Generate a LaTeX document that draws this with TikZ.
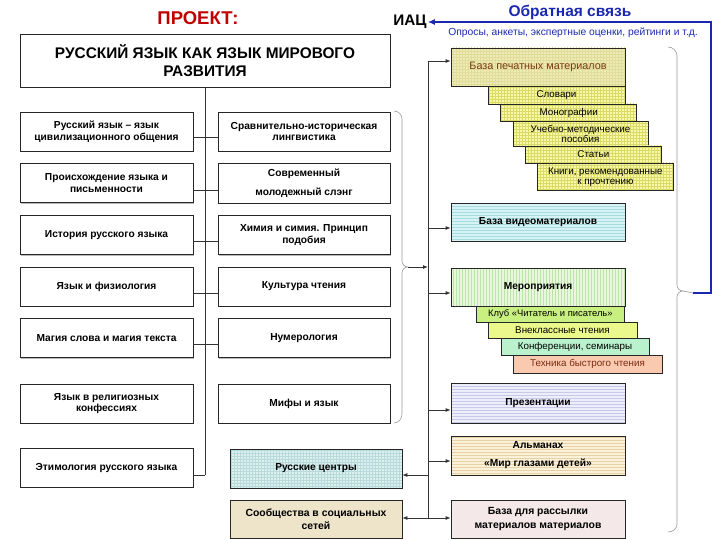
\documentclass[tikz,border=0pt]{standalone}
\usepackage{fontspec}
\setmainfont{Liberation Sans}
\usetikzlibrary{arrows.meta,patterns,shadows}
\definecolor{projred}{HTML}{C00000}
\definecolor{fbblue}{HTML}{1A28B0}
\definecolor{printfill}{HTML}{EEEAB4}
\definecolor{printgrid}{HTML}{E0DC9C}
\definecolor{printtxt}{HTML}{7A3A12}
\definecolor{subyel}{HTML}{F8F8A6}
\definecolor{subgrid}{HTML}{DADA6A}
\definecolor{vidfill}{HTML}{D8F3F5}
\definecolor{vidline}{HTML}{A6DCE0}
\definecolor{evfill}{HTML}{E8F7DE}
\definecolor{evline}{HTML}{BCE4A6}
\definecolor{presfill}{HTML}{EEEEFA}
\definecolor{presline}{HTML}{C8C8EA}
\definecolor{almfill}{HTML}{FBF0D8}
\definecolor{almline}{HTML}{E6D2A6}
\definecolor{mailfill}{HTML}{F4E8E8}
\definecolor{rcfill}{HTML}{DDF0F0}
\definecolor{rcgrid}{HTML}{B8DADA}
\definecolor{socfill}{HTML}{EEE4CA}
\definecolor{clubfill}{HTML}{C8F080}
\definecolor{vnekfill}{HTML}{EAF88C}
\definecolor{konffill}{HTML}{BAF2CE}
\definecolor{techfill}{HTML}{F9CAB0}
\definecolor{techtxt}{HTML}{7A2A10}
\begin{document}
\begin{tikzpicture}[x=1pt,y=-1pt,
  every node/.style={inner sep=1pt},
  lbox/.style={draw=black!85, line width=0.8pt, fill=white, align=center,
    font=\bfseries\fontsize{10.2}{11.5}\selectfont, minimum height=39pt,
    drop shadow={shadow xshift=1.2pt,shadow yshift=-1.2pt,fill=black!45,opacity=0.6}},
  lcol/.style={lbox, minimum width=173pt},
  rcol/.style={lbox, minimum width=172pt},
  bbox/.style={draw=black!85, line width=0.8pt, align=center, minimum width=174pt,
    font=\bfseries\fontsize{10.2}{11.5}\selectfont},
  sbox/.style={draw=black!85, line width=0.7pt, align=center,
    font=\fontsize{9.8}{10.4}\selectfont},
  yel/.style={sbox, preaction={fill=subyel}, pattern=grid, pattern color=subgrid},
  link/.style={draw=black!80, line width=0.8pt},
  arr/.style={draw=black!80, line width=0.8pt, -{Latex[length=5pt,width=4pt]}},
  brk/.style={draw=black!40, line width=0.6pt}
]
\useasboundingbox (0,0) rectangle (720,540);

% header
\node[font=\bfseries\fontsize{18.5}{20}\selectfont, text=projred] (proj) at (198,18) {ПРОЕКТ:};
\node[draw=black!85, line width=0.8pt, fill=white, minimum width=370pt, minimum height=53pt,
  align=center, font=\bfseries\fontsize{15.4}{18}\selectfont] (title) at (205,60.5)
  {РУССКИЙ ЯЗЫК КАК ЯЗЫК МИРОВОГО\\РАЗВИТИЯ};

% left columns
\node[lcol] (L1) at (106.5,131.5) {Русский язык – язык\\цивилизационного общения};
\node[rcol] (R1) at (304,131.5) {Сравнительно-историческая\\лингвистика};
\node[lcol] (L2) at (106.5,183) {Происхождение языка и\\письменности};
\node[rcol, minimum height=40pt] (R2) at (304,183) {Современный\\[7pt]молодежный слэнг};
\node[lcol] (L3) at (106.5,235) {История русского языка};
\node[rcol] (R3) at (304,235) {Химия и симия. Принцип\\подобия};
\node[lcol] (L4) at (106.5,286.5) {Язык и физиология};
\node[rcol] (R4) at (304,286.5) {Культура чтения};
\node[lcol] (L5) at (106.5,338) {Магия слова и магия текста};
\node[rcol] (R5) at (304,338) {Нумерология};
\node[lcol] (L6) at (106.5,403.5) {Язык в религиозных\\конфессиях};
\node[rcol] (R6) at (304,403.5) {Мифы и язык};
\node[lcol] (L7) at (106.5,467.5) {Этимология русского языка};

% trunk 1
\coordinate (T1end) at (205,475);
\draw[link] (title.south) -- (T1end);
\draw[link] ([yshift=-6pt]L1.east) -- ([yshift=-6pt]R1.west);
\draw[link] ([yshift=-7pt]L2.east) -- ([yshift=-7pt]R2.west);
\draw[link] ([yshift=-6pt]L3.east) -- ([yshift=-6pt]R3.west);
\draw[link] ([yshift=-6.5pt]L4.east) -- ([yshift=-6.5pt]R4.west);
\draw[link] ([yshift=-6.5pt]L5.east) -- ([yshift=-6.5pt]R5.west);
\draw[link] ([yshift=-7.5pt]L7.east) -- (T1end);

% bracket of left group
\coordinate (b1tip) at (408,267);
\draw[brk] (394,111) to[out=0,in=90] (402,119) -- (402,261) to[out=-90,in=180] (b1tip)
  to[out=180,in=90] (402,273) -- (402,414) to[out=-90,in=0] (394,423);

% right boxes
\node[bbox, minimum height=38pt, preaction={fill=printfill}, pattern=grid, pattern color=printgrid,
  font=\fontsize{10.8}{12}\selectfont, text=printtxt] (print) at (538,67) {База печатных материалов};
\node[yel, minimum width=137pt, minimum height=18pt] (slov) at (556.5,95) {Словари};
\node[yel, minimum width=136pt, minimum height=17.7pt] (mono) at (568.7,112.85) {Монографии};
\node[yel, minimum width=135pt, minimum height=24.3pt] (ucheb) at (580.5,133.85) {Учебно-методические\\пособия};
\node[yel, minimum width=135.3pt, minimum height=17pt] (stat) at (593.35,154.5) {Статьи};
\node[yel, minimum width=135.3pt, minimum height=27.7pt] (knigi) at (605.35,176.85) {Книги, рекомендованные\\к прочтению};

\node[bbox, minimum height=38.7pt, preaction={fill=vidfill}, pattern=horizontal lines, pattern color=vidline]
  (video) at (538,222.4) {База видеоматериалов};
\node[bbox, minimum height=38pt, preaction={fill=evfill}, pattern=vertical lines, pattern color=evline]
  (events) at (538,287) {Мероприятия};
\node[sbox, fill=clubfill, minimum width=147.3pt, minimum height=16.7pt, font=\fontsize{9.4}{10}\selectfont] (club) at (550.35,314.35) {Клуб «Читатель и писатель»};
\node[sbox, fill=vnekfill, minimum width=149pt, minimum height=15.3pt] (vnekl) at (562.5,330.35) {Внеклассные чтения};
\node[sbox, fill=konffill, minimum width=148pt, minimum height=17pt] (konf) at (575,346.5) {Конференции, семинары};
\node[sbox, fill=techfill, minimum width=149pt, minimum height=18pt, text=techtxt] (tech) at (587.5,364) {Техника быстрого чтения};

\node[bbox, minimum height=40pt, preaction={fill=presfill}, pattern=horizontal lines, pattern color=presline]
  (pres) at (538,403) {Презентации};
\node[bbox, minimum height=39pt, preaction={fill=almfill}, pattern=horizontal lines, pattern color=almline,
  font=\bfseries\fontsize{10.2}{18}\selectfont] (alm) at (538,455.5) {Альманах\\«Мир глазами детей»};
\node[bbox, minimum height=38pt, fill=mailfill, font=\bfseries\fontsize{10.4}{13.5}\selectfont]
  (mail) at (538,519) {База для рассылки\\материалов материалов};

\node[bbox, minimum width=172pt, minimum height=39pt, preaction={fill=rcfill}, pattern=grid, pattern color=rcgrid]
  (rc) at (316,468.5) {Русские центры};
\node[bbox, minimum width=172pt, minimum height=38pt, fill=socfill, font=\bfseries\fontsize{10.4}{13}\selectfont]
  (soc) at (316,519.5) {Сообщества в социальных\\сетей};

% trunk 2
\coordinate (T2top) at (428,61);
\coordinate (T2bot) at (428,518);
\draw[link] (T2top) -- (T2bot);
\draw[arr] (T2top) -- (print.west |- T2top);
\path ([yshift=-5.6pt]video.west) coordinate (vin);
\path ([yshift=-6pt]events.west) coordinate (ein);
\path ([yshift=-7pt]pres.west) coordinate (pin);
\path ([yshift=-5.5pt]alm.west) coordinate (ain);
\path ([yshift=-6.5pt]rc.east) coordinate (rin);
\draw[arr] (T2top |- vin) -- (vin);
\draw[arr] (T2top |- ein) -- (ein);
\draw[arr] (T2top |- pin) -- (pin);
\draw[arr] (T2top |- ain) -- (ain);
\draw[arr] (T2bot) -- (mail.west |- T2bot);
\draw[arr] (T2top |- rin) -- (rin);
\draw[arr] (T2bot) -- (soc.east |- T2bot);
\draw[arr] (b1tip) -- (T2top |- b1tip);

% big bracket
\coordinate (b2tip) at (683,291);
\draw[brk] (668,47) to[out=0,in=90] (677,56) -- (677,285) to[out=-90,in=180] (b2tip)
  to[out=180,in=90] (677,297) -- (677,524) to[out=-90,in=0] (668,532);

% feedback
\node[font=\bfseries\fontsize{15.3}{17}\selectfont] (iac) at (410,22) {ИАЦ};
\node[font=\bfseries\fontsize{15.5}{17}\selectfont, text=fbblue] (fb) at (570,12) {Обратная связь};
\node[font=\fontsize{10.3}{11}\selectfont, text=fbblue] (fbsub) at (573,33) {Опросы, анкеты, экспертные оценки, рейтинги и т.д.};
\coordinate (fbA) at (693,293);
\coordinate (fbB) at (711,293);
\coordinate (fbC) at (711,22);
\draw[brk] (b2tip) -- (fbA);
\draw[fbblue, line width=1.8pt, -{Latex[length=7pt,width=6pt]}] (fbA) -- (fbB) -- (fbC) -- (iac.east);
\end{tikzpicture}
\end{document}
